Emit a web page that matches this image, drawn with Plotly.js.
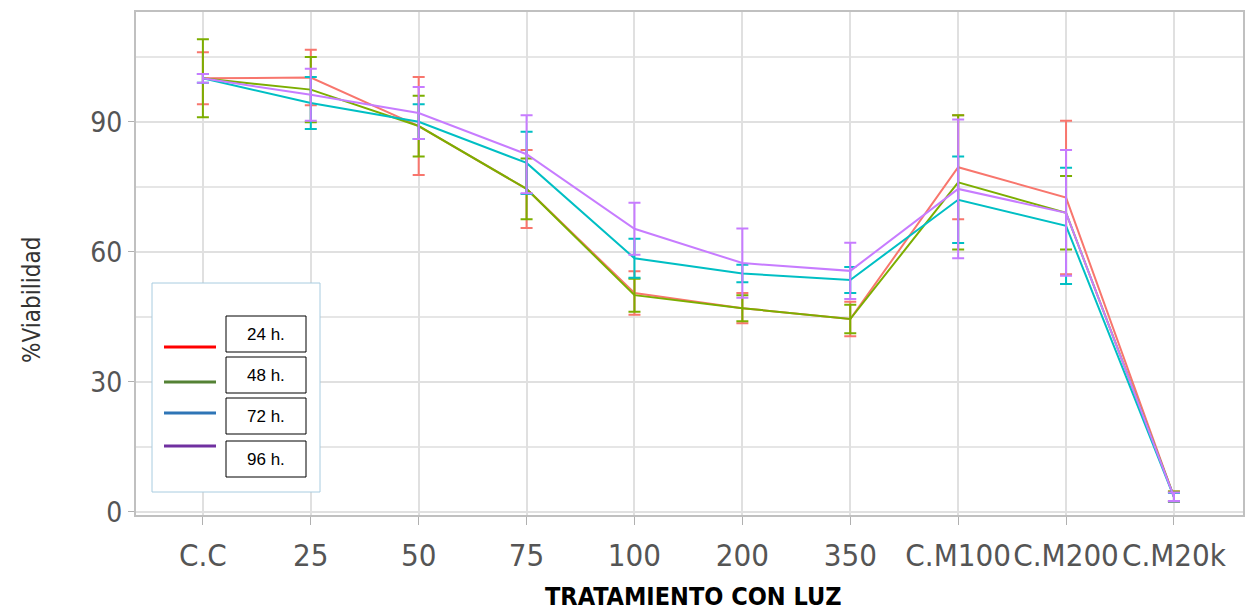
<!DOCTYPE html>
<html><head><meta charset="utf-8">
<script src="https://cdn.plot.ly/plotly-3.0.1.min.js"></script>
<style>html,body{margin:0;padding:0;background:#fff}#chart{width:1250px;height:612px}</style>
</head><body><div id="chart"></div>
<script>
const categories = ["C.C","25","50","75","100","200","350","C.M100","C.M200","C.M20k"];
const seriesNames = ["24 h.","48 h.","72 h.","96 h."];
const v24 = [100, 100.2, 89, 74.5, 50.5, 47, 44.5, 79.5, 72.5, 3.5];
const e24 = [6, 6.4, 11.3, 9, 5, 3.5, 4, 12, 17.7, 1.2];
const v48 = [100, 97.4, 89, 74.5, 50, 47, 44.5, 76, 69, 3.6];
const e48 = [9, 7.5, 7, 7, 3.8, 3, 3.3, 15.5, 8.5, 1.1];
const v72 = [100, 94.3, 90, 80.5, 58.5, 55, 53.5, 72, 66, 3.4];
const e72 = [1, 6, 4, 7.2, 4.5, 2, 3, 10, 13.4, 1.0];
const v96 = [100, 96.2, 92, 82.5, 65.3, 57.4, 55.6, 74.5, 69, 3.5];
const e96 = [1, 6, 6, 9, 6, 8, 6.5, 16, 14.5, 1.0];
const plotColors = ["#F8766D","#7CAE00","#00BFC4","#C77CFF"];
const legendColors = ["#FF0000","#548235","#2E75B6","#7030A0"];
const yTicks = [0,30,60,90];

const vals=[v24,v48,v72,v96], errs=[e24,e48,e72,e96];
const traces = vals.map((v,i)=>({
  type:'scatter', mode:'lines', x:categories, y:v, name:seriesNames[i],
  line:{color:plotColors[i], width:2},
  error_y:{type:'data', array:errs[i], visible:true, color:plotColors[i], thickness:2, width:6},
  showlegend:false
}));

const COND='DejaVu Sans Condensed, Liberation Sans Narrow, Liberation Sans, sans-serif';
const L=136,R=1243,T=12,B=515;
const px=x=>(x-L)/(R-L), py=y=>(B-y)/(B-T);
const shapes=[], annotations=[];
shapes.push({type:'rect',xref:'paper',yref:'paper',x0:px(152),x1:px(320),y0:py(492),y1:py(283),line:{color:'#a8cce0',width:1},fillcolor:'#ffffff',layer:'above'});
const lineY=[347,382,413,446], boxY=[316,357,398,441];
seriesNames.forEach((n,i)=>{
  shapes.push({type:'line',xref:'paper',yref:'paper',x0:px(164),x1:px(216),y0:py(lineY[i]),y1:py(lineY[i]),line:{color:legendColors[i],width:3},layer:'above'});
  shapes.push({type:'rect',xref:'paper',yref:'paper',x0:px(226),x1:px(306),y0:py(boxY[i]+36),y1:py(boxY[i]),line:{color:'#000',width:1},fillcolor:'#fff',layer:'above'});
  annotations.push({xref:'paper',yref:'paper',x:px(266),y:py(boxY[i]+18),text:n,showarrow:false,font:{family:'Liberation Sans, Arial, sans-serif',size:17,color:'#000'},xanchor:'center',yanchor:'middle'});
});
annotations.push({xref:'paper',yref:'paper',x:px(693),y:py(596),text:'<b>TRATAMIENTO CON LUZ</b>',showarrow:false,font:{family:COND,size:25,color:'#000'},xanchor:'center',yanchor:'middle'});
annotations.push({xref:'paper',yref:'paper',x:px(32),y:py(300),text:'%Viabilidad',textangle:-90,showarrow:false,font:{family:COND,size:24,color:'#333'},xanchor:'center',yanchor:'middle'});

const layout={
  width:1250,height:612,margin:{l:L,r:1250-R,t:T,b:612-B},
  paper_bgcolor:'#fff',plot_bgcolor:'#fff',showlegend:false,
  xaxis:{type:'category',range:[-0.62,9.64],showgrid:true,gridcolor:'#e0e0e0',gridwidth:2,
    showline:true,linecolor:'#c0c0c0',linewidth:2,mirror:true,ticks:'outside',ticklen:8,tickcolor:'#b0b0b0',tickwidth:1,
    ticklabelstandoff:4,
    tickfont:{family:COND,size:31,color:'#555'},zeroline:false},
  yaxis:{range:[-0.7,115.3],tickvals:yTicks,ticktext:yTicks.map(String),showgrid:true,gridcolor:'#e0e0e0',gridwidth:2,
    minor:{tickvals:[15,45,75,105],showgrid:true,gridcolor:'#e6e6e6',gridwidth:2,ticks:''},
    showline:true,linecolor:'#c0c0c0',linewidth:2,mirror:true,ticks:'outside',ticklen:6,tickcolor:'#b0b0b0',
    tickfont:{family:COND,size:28,color:'#555'},zeroline:false},
  shapes:shapes,annotations:annotations
};
Plotly.newPlot('chart',traces,layout,{staticPlot:true});
</script></body></html>
